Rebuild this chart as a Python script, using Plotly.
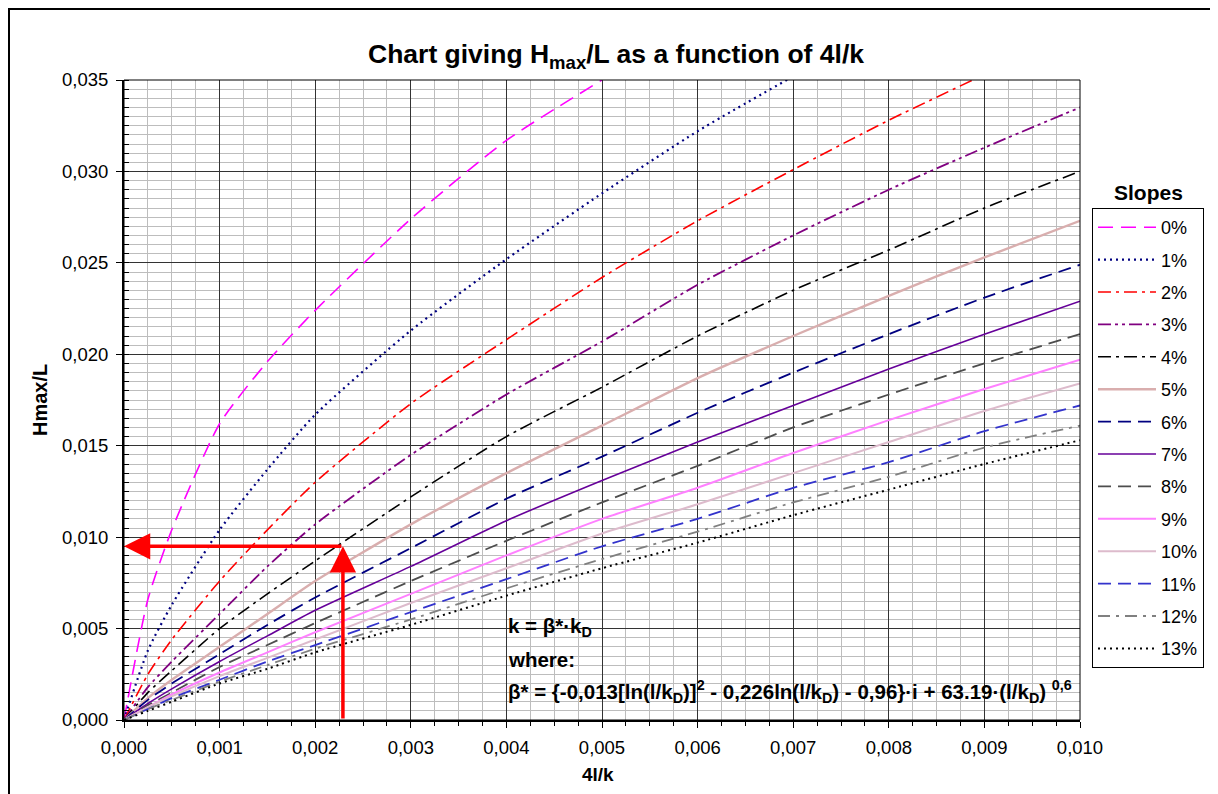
import plotly.graph_objects as go

# ---------------- data ----------------
x_vals = [0.0, 0.00025, 0.0005, 0.001, 0.0015, 0.002, 0.003, 0.004, 0.005,
          0.006, 0.007, 0.008, 0.009, 0.010]

slope_labels = ["0%", "1%", "2%", "3%", "4%", "5%", "6%", "7%", "8%", "9%",
                "10%", "11%", "12%", "13%"]

s0 = [0, 0.0066, 0.0104, 0.0162, 0.0196, 0.0224, 0.0274, 0.0317, 0.0350, None, None, None, None, None]
s1 = [0, 0.0038, 0.0063, 0.0104, 0.0137, 0.0167, 0.0213, 0.0252, 0.0288, 0.0322, 0.0352, None, None, None]
s2 = [0, 0.0025, 0.0044, 0.0076, 0.0104, 0.0130, 0.0173, 0.0208, 0.0242, 0.0273, 0.0301, 0.0328, 0.0353, None]
s3 = [0, 0.0018, 0.0032, 0.0058, 0.0084, 0.0107, 0.0145, 0.0178, 0.0207, 0.0238, 0.0265, 0.0290, 0.0313, 0.0335]
s4 = [0, 0.0015, 0.0027, 0.0050, 0.0069, 0.0087, 0.0122, 0.0155, 0.0182, 0.0210, 0.0235, 0.0257, 0.0280, 0.0300]
s5 = [0, 0.0012, 0.0022, 0.0040, 0.0058, 0.0076, 0.0107, 0.0135, 0.0161, 0.0187, 0.0210, 0.0232, 0.0253, 0.0273]
s6 = [0, 0.0011, 0.0020, 0.0036, 0.0052, 0.0067, 0.0094, 0.0121, 0.0144, 0.0168, 0.0190, 0.0211, 0.0231, 0.0249]
s7 = [0, 0.0009, 0.0017, 0.0032, 0.0046, 0.0060, 0.0084, 0.0109, 0.0131, 0.0152, 0.0172, 0.0192, 0.0211, 0.0229]
s8 = [0, 0.0008, 0.0015, 0.0029, 0.0041, 0.0053, 0.0076, 0.0098, 0.0119, 0.0139, 0.0160, 0.0178, 0.0195, 0.0211]
s9 = [0, 0.0007, 0.0014, 0.0026, 0.0037, 0.0048, 0.0069, 0.0090, 0.0110, 0.0127, 0.0146, 0.0164, 0.0181, 0.0197]
s10 = [0, 0.0007, 0.0013, 0.0024, 0.0034, 0.0044, 0.0064, 0.0083, 0.0102, 0.0118, 0.0135, 0.0152, 0.0169, 0.0184]
s11 = [0, 0.0006, 0.0012, 0.0022, 0.0032, 0.0041, 0.0059, 0.0077, 0.0095, 0.0110, 0.0127, 0.0141, 0.0158, 0.0172]
s12 = [0, 0.0006, 0.0011, 0.0021, 0.0030, 0.0039, 0.0055, 0.0072, 0.0088, 0.0103, 0.0119, 0.0133, 0.0149, 0.0161]
s13 = [0, 0.0005, 0.0010, 0.0020, 0.0028, 0.0037, 0.0052, 0.0068, 0.0083, 0.0097, 0.0112, 0.0126, 0.0140, 0.0153]

series = [s0, s1, s2, s3, s4, s5, s6, s7, s8, s9, s10, s11, s12, s13]

# example reading shown by the red arrows
read_x = 0.00229
read_y = 0.0095

x_ticks = [0.000, 0.001, 0.002, 0.003, 0.004, 0.005, 0.006, 0.007, 0.008, 0.009, 0.010]
y_ticks = [0.000, 0.005, 0.010, 0.015, 0.020, 0.025, 0.030, 0.035]

# ---------------- styles ----------------
styles = [
    dict(color="#FF00FF", dash="15px,8px", width=1.6),
    dict(color="#000080", dash="2px,4px", width=2.2),
    dict(color="#FF0000", dash="13px,5px,3px,5px", width=1.6),
    dict(color="#800080", dash="13px,4px,3px,4px,3px,4px", width=1.8),
    dict(color="#000000", dash="13px,5px,3px,5px", width=1.6),
    dict(color="#D9AEAE", dash="solid", width=2.4),
    dict(color="#000080", dash="13px,7px", width=1.8),
    dict(color="#660099", dash="solid", width=1.6),
    dict(color="#4D4D4D", dash="13px,7px", width=1.8),
    dict(color="#FF80FF", dash="solid", width=2.0),
    dict(color="#DDBBCC", dash="solid", width=2.0),
    dict(color="#3333CC", dash="13px,7px", width=1.8),
    dict(color="#808080", dash="12px,6px,3px,6px", width=1.8),
    dict(color="#000000", dash="2px,4px", width=2.0),
]

FONT = "Arial, Liberation Sans, sans-serif"

# screen -> paper helpers (plot area spans screen x 124..1080, y 80..720)
def px(sx):
    return (sx - 124) / 956

def py(sy):
    return (720 - sy) / 640

fig = go.Figure()
for i, (lab, ys) in enumerate(zip(slope_labels, series)):
    st = styles[i]
    fig.add_trace(go.Scatter(
        x=x_vals, y=ys, mode="lines", name=lab, legendgroup=lab,
        line=dict(color=st["color"], dash=st["dash"], width=st["width"], shape="spline", smoothing=0.6),
        connectgaps=False,
    ))

# formula box (white, covers gridlines)
fig.add_shape(type="rect", xref="paper", yref="paper",
              x0=px(503), x1=1.0, y0=py(712), y1=py(610),
              fillcolor="white", line=dict(width=0), layer="between")

# plot border
fig.add_shape(type="rect", xref="paper", yref="paper", x0=0, x1=1, y0=0, y1=1,
              line=dict(color="black", width=1), layer="above")
# outer chart frame
fig.add_shape(type="rect", xref="paper", yref="paper",
              x0=px(9), x1=px(1213), y0=py(805), y1=py(9),
              line=dict(color="black", width=2), layer="above")

# red arrows
fig.add_annotation(x=read_x, y=read_y, ax=read_x, ay=0, xref="x", yref="y", axref="x", ayref="y",
                   showarrow=True, arrowhead=2, arrowsize=1.5, arrowwidth=3.5, arrowcolor="#FF0000", text="")
fig.add_annotation(x=0, y=read_y, ax=read_x, ay=read_y, xref="x", yref="y", axref="x", ayref="y",
                   showarrow=True, arrowhead=2, arrowsize=1.5, arrowwidth=3.5, arrowcolor="#FF0000", text="")

# formula text
formula_lines = [
    "k = β*·k<sub>D</sub>",
    "where:",
    "β* = {-0,013[ln(l/k<sub>D</sub>)]<sup>2</sup> - 0,226ln(l/k<sub>D</sub>) - 0,96}·i + 63.19·(l/k<sub>D</sub>) <sup>0,6</sup>",
]
for txt, sy in zip(formula_lines, [627, 659, 691]):
    fig.add_annotation(x=px(506), y=py(sy), xref="paper", yref="paper",
                       xanchor="left", yanchor="middle", showarrow=False,
                       text="<b>" + txt + "</b>", font=dict(family=FONT, size=20.5, color="black"))

# title & axis titles & legend title
fig.add_annotation(x=px(616), y=py(56), xref="paper", yref="paper",
                   showarrow=False, xanchor="center", yanchor="middle",
                   text="<b>Chart giving H<sub>max</sub>/L as a function of 4l/k</b>",
                   font=dict(family=FONT, size=26.5, color="black"))
fig.add_annotation(x=px(598), y=py(774), xref="paper", yref="paper",
                   showarrow=False, xanchor="center", yanchor="middle", text="<b>4l/k</b>",
                   font=dict(family=FONT, size=19, color="black"))
fig.add_annotation(x=px(40), y=py(400), xref="paper", yref="paper",
                   showarrow=False, xanchor="center", yanchor="middle", text="<b>Hmax/L</b>",
                   textangle=-90, font=dict(family=FONT, size=20, color="black"))
fig.add_annotation(x=px(1148), y=py(193), xref="paper", yref="paper",
                   showarrow=False, xanchor="center", yanchor="middle", text="<b>Slopes</b>",
                   font=dict(family=FONT, size=21, color="black"))

fig.update_layout(
    width=1218, height=794,
    margin=dict(l=116, r=146, t=72, b=82),
    paper_bgcolor="white", plot_bgcolor="white",
    separators=", ",
    font=dict(family=FONT, size=18, color="black"),
    showlegend=True,
    legend=dict(x=px(1092), y=py(208), xanchor="left", yanchor="top",
                bordercolor="black", borderwidth=1, bgcolor="white",
                font=dict(family=FONT, size=18), itemwidth=58,
                traceorder="grouped", tracegroupgap=6),
)
fig.update_xaxes(range=[0, 0.010], tickvals=x_ticks, tickformat=".3f",
                 showgrid=True, gridcolor="#333333", gridwidth=1,
                 showline=True, linecolor="black", linewidth=2,
                 ticks="outside", ticklen=6, tickcolor="black",
                 minor=dict(dtick=0.00025, showgrid=True, gridcolor="#BDBDBD", gridwidth=1,
                            ticks="outside", ticklen=4, tickcolor="black"),
                 zeroline=False, tickfont=dict(size=18.5), ticklabelstandoff=4)
fig.update_yaxes(range=[0, 0.035], tickvals=y_ticks, tickformat=".3f",
                 showgrid=True, gridcolor="#333333", gridwidth=1,
                 showline=True, linecolor="black", linewidth=2,
                 ticks="outside", ticklen=6, tickcolor="black",
                 minor=dict(dtick=0.0005, showgrid=True, gridcolor="#BDBDBD", gridwidth=1,
                            ticks="inside", ticklen=5, tickcolor="black"),
                 zeroline=False, tickfont=dict(size=18.5), ticklabelstandoff=4)

fig.write_html("out.html")
